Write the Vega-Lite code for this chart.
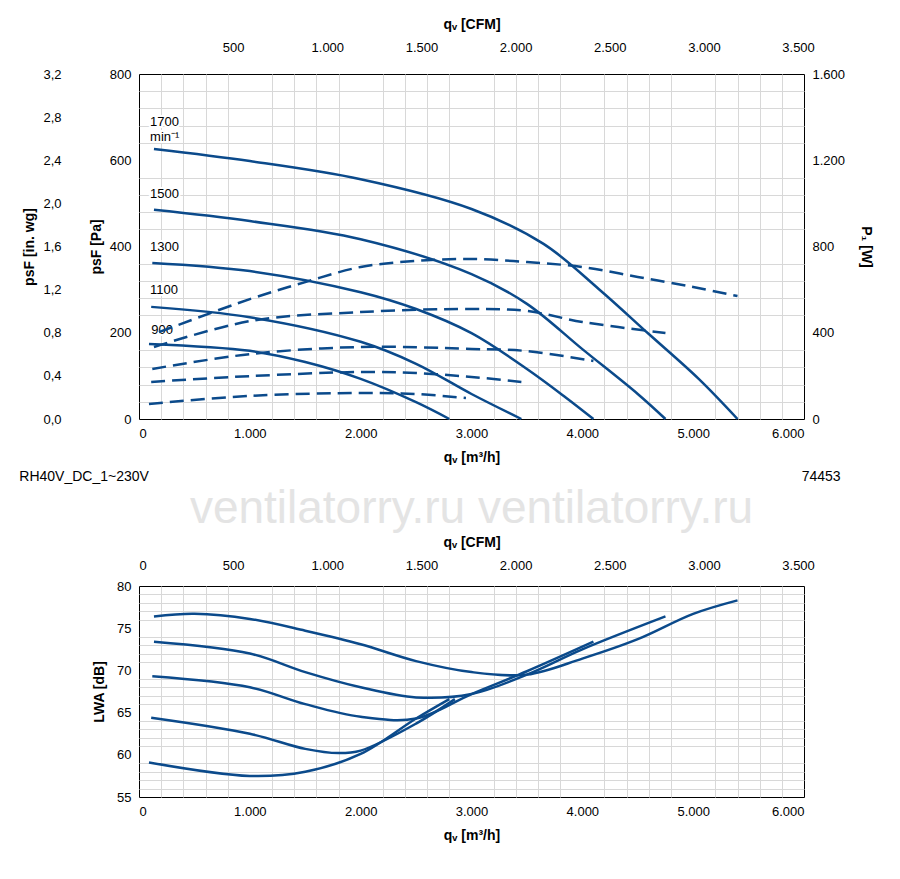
{
  "$schema": "https://vega.github.io/schema/vega-lite/v6.json",
  "background": "white",
  "padding": {"left": 18, "top": 16, "right": 5, "bottom": 5},
  "config": {
    "font": "Liberation Sans",
    "view": {"stroke": "black", "strokeWidth": 1},
    "axis": {"labelFontSize": 13, "titleFontSize": 14, "titleFontWeight": "bold", "labelColor": "black", "titleColor": "black", "domain": false, "ticks": false, "labelPadding": 8},
    "line": {"color": "#0b4a8b", "strokeWidth": 2.5}
  },
  "datasets": {
    "pressure": [
      {"speed": "1700", "q": 135, "p": 626}, {"speed": "1700", "q": 1000, "p": 598}, {"speed": "1700", "q": 2000, "p": 556}, {"speed": "1700", "q": 3000, "p": 487}, {"speed": "1700", "q": 3650, "p": 406}, {"speed": "1700", "q": 4150, "p": 301}, {"speed": "1700", "q": 4600, "p": 197}, {"speed": "1700", "q": 5050, "p": 93}, {"speed": "1700", "q": 5400, "p": 0},
      {"speed": "1500", "q": 135, "p": 485}, {"speed": "1500", "q": 1000, "p": 459}, {"speed": "1500", "q": 2000, "p": 417}, {"speed": "1500", "q": 3000, "p": 336}, {"speed": "1500", "q": 3500, "p": 267}, {"speed": "1500", "q": 4000, "p": 162}, {"speed": "1500", "q": 4500, "p": 58}, {"speed": "1500", "q": 4750, "p": 0},
      {"speed": "1300", "q": 120, "p": 362}, {"speed": "1300", "q": 1000, "p": 343}, {"speed": "1300", "q": 2000, "p": 294}, {"speed": "1300", "q": 2500, "p": 255}, {"speed": "1300", "q": 3000, "p": 199}, {"speed": "1300", "q": 3500, "p": 116}, {"speed": "1300", "q": 3850, "p": 50}, {"speed": "1300", "q": 4100, "p": 0},
      {"speed": "1100", "q": 110, "p": 260}, {"speed": "1100", "q": 1000, "p": 236}, {"speed": "1100", "q": 2000, "p": 179}, {"speed": "1100", "q": 2500, "p": 128}, {"speed": "1100", "q": 3000, "p": 58}, {"speed": "1100", "q": 3450, "p": 0},
      {"speed": "900", "q": 90, "p": 174}, {"speed": "900", "q": 1000, "p": 158}, {"speed": "900", "q": 1500, "p": 132}, {"speed": "900", "q": 2000, "p": 93}, {"speed": "900", "q": 2500, "p": 39}, {"speed": "900", "q": 2800, "p": 0}
    ],
    "power": [
      {"speed": "1700", "q": 180, "w": 403}, {"speed": "1700", "q": 1000, "w": 556}, {"speed": "1700", "q": 1500, "w": 635}, {"speed": "1700", "q": 2000, "w": 705}, {"speed": "1700", "q": 2500, "w": 733}, {"speed": "1700", "q": 3000, "w": 742}, {"speed": "1700", "q": 3500, "w": 728}, {"speed": "1700", "q": 4000, "w": 705}, {"speed": "1700", "q": 4500, "w": 659}, {"speed": "1700", "q": 5000, "w": 612}, {"speed": "1700", "q": 5400, "w": 570},
      {"speed": "1500", "q": 135, "w": 334}, {"speed": "1500", "q": 1000, "w": 454}, {"speed": "1500", "q": 2000, "w": 496}, {"speed": "1500", "q": 3000, "w": 510}, {"speed": "1500", "q": 3500, "w": 501}, {"speed": "1500", "q": 4000, "w": 450}, {"speed": "1500", "q": 4750, "w": 399},
      {"speed": "1300", "q": 120, "w": 232}, {"speed": "1300", "q": 1000, "w": 301}, {"speed": "1300", "q": 2000, "w": 334}, {"speed": "1300", "q": 3000, "w": 325}, {"speed": "1300", "q": 3500, "w": 315}, {"speed": "1300", "q": 4100, "w": 269},
      {"speed": "1100", "q": 110, "w": 172}, {"speed": "1100", "q": 1000, "w": 199}, {"speed": "1100", "q": 2000, "w": 218}, {"speed": "1100", "q": 2500, "w": 213}, {"speed": "1100", "q": 3000, "w": 195}, {"speed": "1100", "q": 3450, "w": 172},
      {"speed": "900", "q": 90, "w": 70}, {"speed": "900", "q": 1000, "w": 107}, {"speed": "900", "q": 2000, "w": 121}, {"speed": "900", "q": 2500, "w": 116}, {"speed": "900", "q": 2950, "w": 97}
    ],
    "sound": [
      {"speed": "1700", "q": 135, "db": 76.4}, {"speed": "1700", "q": 500, "db": 76.7}, {"speed": "1700", "q": 1000, "db": 76.1}, {"speed": "1700", "q": 1500, "db": 74.7}, {"speed": "1700", "q": 2000, "db": 73.1}, {"speed": "1700", "q": 2500, "db": 71.1}, {"speed": "1700", "q": 3000, "db": 69.8}, {"speed": "1700", "q": 3500, "db": 69.5}, {"speed": "1700", "q": 4000, "db": 71.4}, {"speed": "1700", "q": 4500, "db": 73.7}, {"speed": "1700", "q": 5000, "db": 76.7}, {"speed": "1700", "q": 5400, "db": 78.3},
      {"speed": "1500", "q": 135, "db": 73.4}, {"speed": "1500", "q": 1000, "db": 72.0}, {"speed": "1500", "q": 1500, "db": 69.8}, {"speed": "1500", "q": 2000, "db": 68.0}, {"speed": "1500", "q": 2500, "db": 66.8}, {"speed": "1500", "q": 3000, "db": 67.2}, {"speed": "1500", "q": 3500, "db": 69.5}, {"speed": "1500", "q": 4000, "db": 72.5}, {"speed": "1500", "q": 4750, "db": 76.4},
      {"speed": "1300", "q": 120, "db": 69.3}, {"speed": "1300", "q": 1000, "db": 68.0}, {"speed": "1300", "q": 1500, "db": 66.0}, {"speed": "1300", "q": 2000, "db": 64.5}, {"speed": "1300", "q": 2500, "db": 64.3}, {"speed": "1300", "q": 3000, "db": 67.2}, {"speed": "1300", "q": 3500, "db": 69.9}, {"speed": "1300", "q": 4100, "db": 73.4},
      {"speed": "1100", "q": 110, "db": 64.4}, {"speed": "1100", "q": 1000, "db": 62.5}, {"speed": "1100", "q": 1500, "db": 60.7}, {"speed": "1100", "q": 1800, "db": 60.2}, {"speed": "1100", "q": 2000, "db": 60.5}, {"speed": "1100", "q": 2500, "db": 63.7}, {"speed": "1100", "q": 2850, "db": 66.6},
      {"speed": "900", "q": 90, "db": 59.1}, {"speed": "900", "q": 1000, "db": 57.5}, {"speed": "900", "q": 1500, "db": 58.0}, {"speed": "900", "q": 2000, "db": 60.1}, {"speed": "900", "q": 2500, "db": 64.3}, {"speed": "900", "q": 2800, "db": 66.6}
    ],
    "labels": [
      {"q": 100, "p": 689, "t": "1700"}, {"q": 100, "p": 655, "t": "min⁻¹"}, {"q": 100, "p": 522, "t": "1500"}, {"q": 100, "p": 399, "t": "1300"}, {"q": 100, "p": 299, "t": "1100"}, {"q": 110, "p": 206, "t": "900"}
    ]
  },
  "vconcat": [
    {
      "width": 665,
      "height": 345,
      "layer": [
        {
          "data": {"values": [{"q": 0, "p": 0}]},
          "mark": {"type": "point", "opacity": 0},
          "encoding": {
            "x": {"field": "q", "type": "quantitative", "scale": {"domain": [0, 6000], "nice": false}, "axis": {"orient": "bottom", "values": [200, 400, 600, 800, 1200, 1400, 1600, 1800, 2200, 2400, 2600, 2800, 3200, 3400, 3600, 3800, 4200, 4400, 4600, 4800, 5200, 5400, 5600, 5800], "labels": false, "ticks": false, "domain": false, "title": null, "gridColor": "#d8d8d8", "gridWidth": 1}},
            "y": {"field": "p", "type": "quantitative", "scale": {"domain": [0, 800], "nice": false}, "axis": {"orient": "left", "values": [40, 80, 120, 160, 240, 280, 320, 360, 440, 480, 520, 560, 640, 680, 720, 760], "labels": false, "ticks": false, "domain": false, "title": null, "gridColor": "#d8d8d8", "gridWidth": 1}}
          }
        },
        {
          "layer": [
            {
              "data": {"name": "pressure"},
              "mark": {"type": "line", "interpolate": "catmull-rom"},
              "encoding": {
                "x": {"field": "q", "type": "quantitative", "scale": {"domain": [0, 6000], "nice": false}, "axis": {"orient": "bottom", "values": [0, 1000, 2000, 3000, 4000, 5000, 6000], "labelExpr": "replace(format(datum.value, ','), ',', '.')", "title": "qᵥ [m³/h]", "gridColor": "black", "gridWidth": 1.2, "titlePadding": 10}},
                "y": {"field": "p", "type": "quantitative", "scale": {"domain": [0, 800], "nice": false}, "axis": {"orient": "left", "values": [0, 200, 400, 600, 800], "title": "psF [Pa]", "gridColor": "black", "gridWidth": 1.2, "titlePadding": 6}},
                "detail": {"field": "speed"}
              }
            },
            {
              "data": {"name": "labels"},
              "mark": {"type": "text", "align": "left", "fontSize": 13, "stroke": "white", "strokeWidth": 4},
              "encoding": {"x": {"field": "q", "type": "quantitative"}, "y": {"field": "p", "type": "quantitative"}, "text": {"field": "t"}}
            },
            {
              "data": {"name": "labels"},
              "mark": {"type": "text", "align": "left", "fontSize": 13, "color": "black"},
              "encoding": {"x": {"field": "q", "type": "quantitative"}, "y": {"field": "p", "type": "quantitative"}, "text": {"field": "t"}}
            },
            {
              "data": {"values": [{"q": -1080, "p": -135, "t": "RH40V_DC_1~230V"}]},
              "mark": {"type": "text", "align": "left", "fontSize": 14, "color": "black", "clip": false},
              "encoding": {"x": {"field": "q", "type": "quantitative"}, "y": {"field": "p", "type": "quantitative"}, "text": {"field": "t"}}
            },
            {
              "data": {"values": [{"q": 6330, "p": -135, "t": "74453"}]},
              "mark": {"type": "text", "align": "right", "fontSize": 14, "color": "black", "clip": false},
              "encoding": {"x": {"field": "q", "type": "quantitative"}, "y": {"field": "p", "type": "quantitative"}, "text": {"field": "t"}}
            }
          ]
        },
        {
          "data": {"name": "power"},
          "mark": {"type": "line", "interpolate": "catmull-rom", "strokeDash": [14, 7]},
          "encoding": {
            "x": {"field": "q", "type": "quantitative", "scale": {"domain": [0, 6000], "nice": false}, "axis": null},
            "y": {"field": "w", "type": "quantitative", "scale": {"domain": [0, 1600], "nice": false}, "axis": {"orient": "right", "values": [0, 400, 800, 1200, 1600], "labelExpr": "replace(format(datum.value, ','), ',', '.')", "grid": false, "title": "P₁ [W]", "titlePadding": 14}},
            "detail": {"field": "speed"}
          }
        },
        {
          "data": {"values": [{"cfm": 0, "wg": 0}]},
          "mark": {"type": "point", "opacity": 0},
          "encoding": {
            "x": {"field": "cfm", "type": "quantitative", "scale": {"domain": [0, 3531.5], "nice": false}, "axis": {"orient": "top", "values": [500, 1000, 1500, 2000, 2500, 3000, 3500], "labelExpr": "replace(format(datum.value, ','), ',', '.')", "grid": false, "title": "qᵥ [CFM]", "titlePadding": 10, "labelPadding": 20}},
            "y": {"field": "wg", "type": "quantitative", "scale": {"domain": [0, 3.2], "nice": false}, "axis": {"orient": "left", "offset": 70, "values": [0, 0.4, 0.8, 1.2, 1.6, 2.0, 2.4, 2.8, 3.2], "labelExpr": "replace(format(datum.value, '.1f'), '.', ',')", "grid": false, "title": "psF [in. wg]", "titlePadding": 6}}
          }
        }
      ],
      "resolve": {"scale": {"x": "independent", "y": "independent"}, "axis": {"x": "independent", "y": "independent"}}
    },
    {
      "width": 665,
      "height": 211,
      "title": {"text": "ventilatorry.ru          ventilatorry.ru", "fontSize": 46, "fontWeight": "normal", "color": "#e4e4e4", "offset": 2, "anchor": "middle"},
      "layer": [
        {
          "data": {"values": [{"q": 0, "db": 55}]},
          "mark": {"type": "point", "opacity": 0},
          "encoding": {
            "x": {"field": "q", "type": "quantitative", "scale": {"domain": [0, 6000], "nice": false}, "axis": {"orient": "bottom", "values": [200, 400, 600, 800, 1200, 1400, 1600, 1800, 2200, 2400, 2600, 2800, 3200, 3400, 3600, 3800, 4200, 4400, 4600, 4800, 5200, 5400, 5600, 5800], "labels": false, "ticks": false, "domain": false, "title": null, "gridColor": "#d8d8d8", "gridWidth": 1}},
            "y": {"field": "db", "type": "quantitative", "scale": {"domain": [55, 80], "nice": false}, "axis": {"orient": "left", "values": [56, 57, 58, 59, 61, 62, 63, 64, 66, 67, 68, 69, 71, 72, 73, 74, 76, 77, 78, 79], "labels": false, "ticks": false, "domain": false, "title": null, "gridColor": "#d8d8d8", "gridWidth": 1}}
          }
        },
        {
          "data": {"name": "sound"},
          "mark": {"type": "line", "interpolate": "catmull-rom"},
          "encoding": {
            "x": {"field": "q", "type": "quantitative", "scale": {"domain": [0, 6000], "nice": false}, "axis": {"orient": "bottom", "values": [0, 1000, 2000, 3000, 4000, 5000, 6000], "labelExpr": "replace(format(datum.value, ','), ',', '.')", "title": "qᵥ [m³/h]", "gridColor": "black", "gridWidth": 1.2, "titlePadding": 10}},
            "y": {"field": "db", "type": "quantitative", "scale": {"domain": [55, 80], "nice": false}, "axis": {"orient": "left", "values": [55, 60, 65, 70, 75, 80], "title": "LWA [dB]", "gridColor": "black", "gridWidth": 1.2, "titlePadding": 10}},
            "detail": {"field": "speed"}
          }
        },
        {
          "data": {"values": [{"cfm": 0}]},
          "mark": {"type": "point", "opacity": 0},
          "encoding": {
            "x": {"field": "cfm", "type": "quantitative", "scale": {"domain": [0, 3531.5], "nice": false}, "axis": {"orient": "top", "values": [0, 500, 1000, 1500, 2000, 2500, 3000, 3500], "labelExpr": "replace(format(datum.value, ','), ',', '.')", "grid": false, "title": "qᵥ [CFM]", "titlePadding": 10, "labelPadding": 14}}
          }
        }
      ],
      "resolve": {"scale": {"x": "independent", "y": "independent"}, "axis": {"x": "independent", "y": "independent"}}
    }
  ],
  "bounds": "flush",
  "spacing": 167
}
